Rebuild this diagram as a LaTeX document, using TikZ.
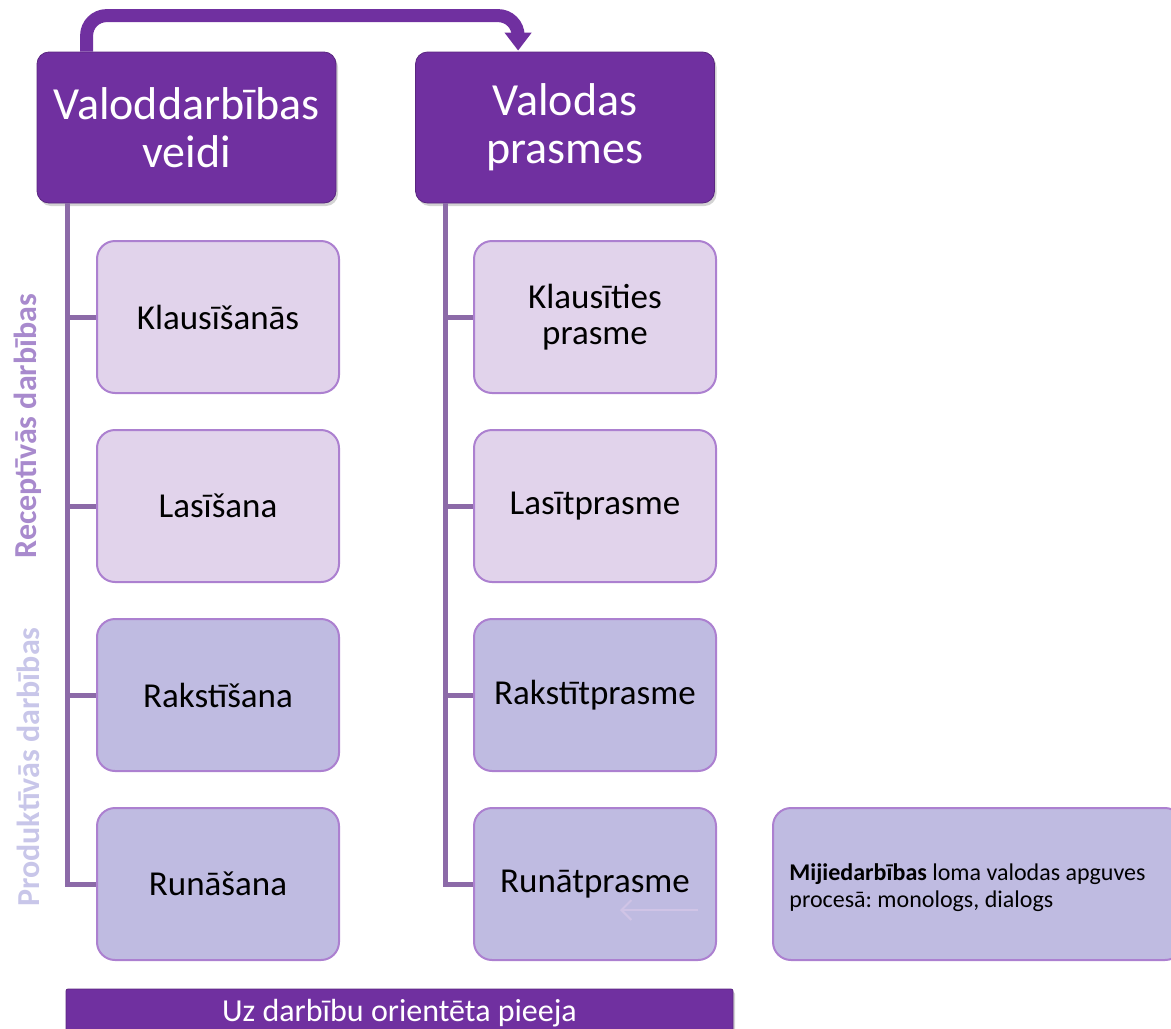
\documentclass[tikz,border=0pt]{standalone}
\usepackage{fontspec}
\setmainfont{Carlito}
\frenchspacing
\usetikzlibrary{arrows.meta, calc, shadows}
\definecolor{darkviolet}{RGB}{112,48,160}
\definecolor{lilac}{RGB}{225,211,235}
\definecolor{periwinkle}{RGB}{191,187,225}
\definecolor{boxedge}{RGB}{172,128,208}
\definecolor{treeviolet}{RGB}{140,106,168}
\definecolor{recepcolor}{RGB}{168,138,205}
\definecolor{produkcolor}{RGB}{200,198,233}
\definecolor{faintviolet}{RGB}{208,196,230}

\begin{document}
\begin{tikzpicture}[x=0.5pt, y=-0.5pt,
    every node/.style={inner sep=1pt}]

    \tikzstyle{headbox}=[rectangle, rounded corners=6pt, fill=darkviolet, draw=darkviolet!80!black, minimum width=149.5pt, minimum height=75.5pt, text=white, align=center, font=\fontsize{23}{24}\selectfont, drop shadow={shadow xshift=1pt, shadow yshift=-1.5pt, opacity=0.35}]
    \tikzstyle{childbox}=[rectangle, rounded corners=9pt, draw=boxedge, line width=1pt, minimum width=121pt, minimum height=76pt, text=black, align=center, font=\fontsize{17.5}{18}\selectfont]
    \tikzstyle{sidelabel}=[rotate=90, font=\fontsize{16}{18}\selectfont\bfseries]
    \tikzstyle{treeline}=[treeviolet, line width=2.5pt]
    \tikzstyle{headarrow}=[darkviolet, line width=6.5pt, rounded corners=10pt, -{Triangle[length=9pt, width=13pt]}]
    \tikzstyle{faintarrow}=[faintviolet, line width=1pt, -{Straight Barb[length=5pt, width=10pt]}]

    \useasboundingbox (0,0) rectangle (1171,1028);

    % headers
    \node[headbox] (h1) at (186.5,127.5) {Valoddarbības\\veidi};
    \node[headbox] (h2) at (565,127.5) {Valodas\\prasmes};

    % first column
    \node[childbox, fill=lilac] (c11) at (218,317) {Klausīšanās};
    \node[childbox, fill=lilac] (c12) at (218,506) {Lasīšana};
    \node[childbox, fill=periwinkle] (c13) at (218,695) {Rakstīšana};
    \node[childbox, fill=periwinkle] (c14) at (218,884) {Runāšana};

    % second column
    \node[childbox, fill=lilac] (c21) at (595,317) {Klausīties\\prasme};
    \node[childbox, fill=lilac] (c22) at (595,506) {Lasītprasme};
    \node[childbox, fill=periwinkle] (c23) at (595,695) {Rakstītprasme};
    \node[childbox, fill=periwinkle] (c24) at (595,884) {Runātprasme};

    % interaction box
    \node[childbox, fill=periwinkle, minimum width=205pt] (mx) at (978,884) {};
    \node[anchor=west, align=left, font=\fontsize{12}{13.5}\selectfont] (mt) at ($(mx.west)+(15,4)$) {\textbf{Mijiedarbības} loma valodas apguves\\procesā: monologs, dialogs};

    % bottom bar
    \node[headbox, rounded corners=1pt, minimum width=333.5pt, minimum height=24pt, font=\fontsize{16}{18}\selectfont] (bb) at (399.5,1013) {Uz darbību orientēta pieeja};

    % side labels
    \node[sidelabel, text=recepcolor] (rl) at (28,426) {Receptīvās darbības};
    \node[sidelabel, text=produkcolor] (pl) at (28,767) {Produktīvās darbības};

    % tree lines
    \draw[treeline] ($(h1.south west)+(31,0)$) coordinate (t1) |- (c14.west);
    \draw[treeline] ($(h2.south west)+(30,0)$) coordinate (t2) |- (c24.west);
    \foreach \r in {1,2,3} {
        \draw[treeline] (t1 |- c1\r.west) -- (c1\r.west);
        \draw[treeline] (t2 |- c2\r.west) -- (c2\r.west);
    }

    % arrow between headers
    \coordinate (a1) at ($(h1.north west)+(50,0)$);
    \coordinate (a2) at ($(h2.north west)+(103,-1)$);
    \draw[headarrow] (a1) -- ++(0,-36) -| (a2);

    % faint arrow
    \coordinate (f1) at ($(c24.center)+(103,26)$);
    \coordinate (f2) at ($(c24.center)+(25,26)$);
    \draw[faintarrow] (f1) -- (f2);

\end{tikzpicture}
\end{document}
